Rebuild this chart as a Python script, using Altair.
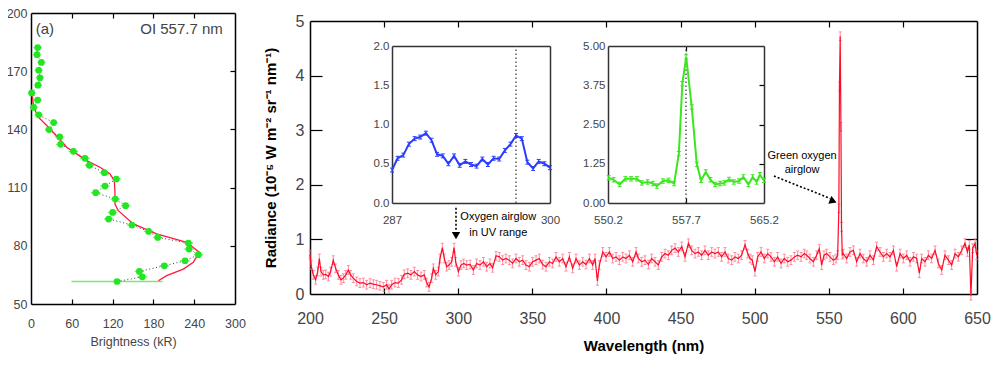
import altair as alt
import pandas as pd

FONT = "Liberation Sans"

# ---------------- data ----------------
# (a) OI 557.7 nm brightness profile
A_ALT = [182.2, 178.5, 174.5, 170.5, 166.6, 162.8, 158.8, 155.1, 151.3, 147.5,
         143.5, 139.9, 136.1, 132.3, 128.7, 125.1, 121.5, 117.7, 114.4, 110.8,
         107.4, 104.1, 100.7, 97.2, 93.8, 90.7, 87.4, 84.3, 81.4, 78.3,
         75.4, 72.3, 69.7, 66.8, 64.0, 61.6]
A_BRIGHT = [9.8, 8.8, 15.2, 11.3, 13.2, 10.3, 1.0, 9.8, 3.9, 11.3,
            33.3, 26.5, 42.2, 43.6, 62.3, 79.4, 85.8, 107.8, 125.5, 108.8,
            95.1, 124.0, 139.2, 120.1, 114.2, 148.5, 173.0, 186.3, 231.4, 232.4,
            246.1, 226.5, 196.1, 159.3, 163.7, 126.5]
A_ERR = [6, 6, 6, 6, 6, 6, 6, 6, 6, 6,
         6, 6, 7, 7, 7, 7, 7, 7, 7, 7,
         7, 7, 7, 7, 7, 7, 7, 7, 7, 7,
         7, 7, 7, 7, 7, 67]
A_MODEL_ALT = [160.0, 151.4, 146.3, 140.3, 130.8, 123.9, 120.5, 117.0, 113.6, 107.6,
               103.3, 101.5, 98.1, 91.3, 86.1, 81.8, 76.7, 71.5, 68.0, 64.6, 62.0]
A_MODEL_BRIGHT = [1.0, 3.9, 10.8, 27.9, 52.5, 81.9, 101.5, 116.2, 122.5, 123.5,
                  123.5, 123.5, 128.4, 150.5, 184.8, 228.9, 247.5, 238.7, 224.0, 199.5, 187.3]

# main spectrum
WL = [200.0, 200.7, 202.2, 203.8, 205.2, 206.3, 207.4, 209.0, 210.6, 212.4,
      213.9, 215.7, 217.3, 219.1, 220.9, 222.5, 224.1, 225.9, 227.4, 229.2,
      231.5, 233.7, 236.0, 238.2, 240.5, 242.7, 245.0, 247.2, 249.5, 251.7,
      253.3, 255.1, 257.3, 259.6, 261.8, 263.6, 265.9, 268.1, 270.4, 272.6,
      274.9, 277.1, 278.7, 280.3, 282.1, 283.2, 284.8, 286.6, 287.7, 289.3,
      290.6, 292.2, 293.8, 295.6, 297.2, 298.3, 300.1, 301.9, 303.7, 305.7,
      308.0, 310.2, 312.4, 314.7, 317.0, 319.2, 321.4, 323.2, 325.5, 327.7,
      330.0, 332.2, 334.5, 336.7, 339.0, 341.2, 343.5, 345.7, 348.0, 350.2,
      352.5, 354.7, 357.0, 359.2, 361.5, 363.7, 366.0, 368.2, 370.5, 372.7,
      375.0, 377.2, 379.5, 381.7, 384.0, 386.2, 388.5, 390.7, 392.3, 393.9,
      395.2, 397.5, 399.7, 402.0, 404.2, 406.5, 408.7, 411.0, 413.2, 415.5,
      417.7, 420.0, 421.5, 423.8, 426.0, 428.3, 430.5, 432.8, 435.0, 437.3,
      439.5, 441.8, 444.0, 446.3, 448.5, 450.8, 453.0, 455.3, 457.5, 459.8,
      462.0, 464.2, 466.5, 468.7, 471.0, 473.2, 475.5, 477.7, 480.0, 482.2,
      484.5, 486.7, 489.0, 491.2, 493.5, 495.3, 496.9, 498.4, 500.2, 502.0,
      504.3, 506.5, 508.8, 511.0, 513.3, 515.5, 517.8, 520.0, 522.3, 524.5,
      526.8, 529.0, 531.3, 533.5, 535.1, 537.3, 539.6, 541.8, 543.6, 545.2,
      546.8, 548.6, 550.8, 553.1, 554.9, 556.0, 556.8, 557.2, 557.7, 558.2,
      558.6, 559.1, 559.8, 562.1, 564.3, 566.6, 568.8, 571.1, 573.3, 575.6,
      577.8, 580.1, 582.3, 584.6, 586.8, 589.1, 591.3, 593.6, 595.8, 598.1,
      600.3, 602.6, 604.8, 607.1, 609.3, 611.1, 612.7, 614.9, 617.2, 619.4,
      621.7, 623.9, 626.2, 628.4, 630.7, 632.9, 635.2, 637.4, 639.7, 641.9,
      643.5, 644.8, 645.9, 647.1, 648.7, 649.8]
RAD = [0.72, 0.53, 0.35, 0.26, 0.41, 0.65, 0.41, 0.35, 0.36, 0.32,
       0.41, 0.62, 0.47, 0.35, 0.26, 0.29, 0.35, 0.44, 0.35, 0.29,
       0.23, 0.20, 0.21, 0.17, 0.20, 0.18, 0.17, 0.15, 0.13, 0.17,
       0.09, 0.17, 0.21, 0.20, 0.26, 0.36, 0.38, 0.35, 0.41, 0.35,
       0.32, 0.35, 0.21, 0.13, 0.29, 0.47, 0.35, 0.41, 0.65, 0.85,
       0.65, 0.50, 0.53, 0.59, 0.85, 0.59, 0.41, 0.53, 0.56, 0.53,
       0.54, 0.44, 0.56, 0.53, 0.59, 0.50, 0.56, 0.48, 0.70, 0.68,
       0.62, 0.65, 0.62, 0.56, 0.65, 0.59, 0.62, 0.53, 0.50, 0.59,
       0.62, 0.65, 0.54, 0.50, 0.59, 0.56, 0.68, 0.59, 0.65, 0.50,
       0.68, 0.47, 0.65, 0.53, 0.59, 0.54, 0.65, 0.53, 0.65, 0.24,
       0.53, 0.77, 0.68, 0.77, 0.65, 0.68, 0.62, 0.68, 0.65, 0.71,
       0.59, 0.77, 0.65, 0.59, 0.62, 0.54, 0.65, 0.59, 0.53, 0.68,
       0.74, 0.71, 0.80, 0.84, 0.77, 0.87, 0.68, 0.93, 0.80, 0.74,
       0.77, 0.71, 0.80, 0.71, 0.77, 0.74, 0.77, 0.68, 0.77, 0.65,
       0.62, 0.68, 0.65, 0.71, 0.90, 0.74, 0.65, 0.62, 0.41, 0.68,
       0.77, 0.65, 0.74, 0.68, 0.59, 0.68, 0.56, 0.65, 0.59, 0.62,
       0.68, 0.71, 0.68, 0.74, 0.71, 0.65, 0.59, 0.71, 0.83, 0.53,
       0.71, 0.74, 0.68, 0.62, 0.65, 0.71, 1.57, 3.80, 4.72, 3.06,
       1.23, 0.72, 0.74, 0.65, 0.77, 0.80, 0.59, 0.74, 0.65, 0.59,
       0.71, 0.62, 0.87, 0.77, 0.68, 0.74, 0.68, 0.80, 0.50, 0.74,
       0.65, 0.71, 0.59, 0.68, 0.65, 0.38, 0.65, 0.59, 0.71, 0.65,
       0.80, 0.56, 0.44, 0.71, 0.62, 0.53, 0.74, 0.68, 0.80, 0.93,
       0.77, 0.90, -0.03, 0.84, 0.93, 0.71]
RAD_ERR = 0.08

# inset: UV oxygen airglow
UV_WL = [287.00, 287.46, 287.93, 288.39, 288.86, 289.32, 289.79, 290.25, 290.71, 291.18,
         291.64, 292.11, 292.57, 293.04, 293.50, 293.96, 294.43, 294.89, 295.36, 295.82,
         296.29, 296.75, 297.21, 297.68, 298.14, 298.61, 299.07, 299.54, 300.00]
UV_RAD = [0.42, 0.57, 0.61, 0.75, 0.82, 0.84, 0.89, 0.80, 0.62, 0.60,
          0.50, 0.60, 0.48, 0.53, 0.49, 0.47, 0.56, 0.49, 0.57, 0.56,
          0.67, 0.75, 0.86, 0.82, 0.52, 0.44, 0.53, 0.50, 0.45]
UV_ERR = 0.025
UV_LINE = [297.2]

# inset: green oxygen line
GR_WL = [550.26, 550.74, 551.32, 551.86, 552.41, 552.98, 553.46, 554.01, 554.52, 554.90,
         555.48, 556.02, 556.56, 557.01, 557.35, 557.72, 558.25, 558.74, 559.15, 559.60,
         560.05, 560.50, 560.98, 561.39, 561.84, 562.29, 562.80, 563.22, 563.70, 564.11,
         564.49, 564.81, 565.20]
GR_RAD = [0.80, 0.74, 0.59, 0.77, 0.77, 0.77, 0.64, 0.67, 0.62, 0.54,
          0.70, 0.72, 0.62, 1.57, 3.80, 4.65, 3.06, 1.23, 0.72, 0.99,
          0.74, 0.59, 0.62, 0.64, 0.75, 0.67, 0.70, 0.83, 0.59, 0.83,
          0.67, 0.90, 0.72]
GR_ERR = 0.07
GR_LINE = [557.7]

# tick values
A_XTICKS = [0, 60, 120, 180, 240, 300]
A_XINNER = [60, 120, 180, 240]
A_YTICKS = [50, 80, 110, 140, 170, 200]
A_YINNER = [80, 110, 140, 170]
B_XTICKS = [200, 250, 300, 350, 400, 450, 500, 550, 600, 650]
B_XINNER = [250, 300, 350, 400, 450, 500, 550, 600]
B_YTICKS = [0, 1, 2, 3, 4, 5]
B_YINNER = [1, 2, 3, 4]
C_XTICKS = [287, 300]
C_YTICKS = [0.0, 0.5, 1.0, 1.5, 2.0]
D_XTICKS = [550.2, 557.7, 565.2]
D_XINNER = [557.7]
D_YTICKS = [0.0, 1.25, 2.5, 3.75, 5.0]
D_YINNER = [1.25, 2.5, 3.75]

# annotation texts
UV_NOTE = ["Oxygen airglow", "in UV range"]
GR_NOTE = ["Green oxygen", "airglow"]
PANEL_LABEL = "(a)"
PANEL_LINE = "OI 557.7 nm"

# ---------------- layout (pixels inside the plot area) ----------------
W, H = 946, 291
A_XS = alt.Scale(domain=[0, 300], range=[0, 204], nice=False, zero=False)
A_YS = alt.Scale(domain=[50, 200], range=[291, 0], nice=False, zero=False)
B_XS = alt.Scale(domain=[200, 650], range=[279, 946], nice=False, zero=False)
B_YS = alt.Scale(domain=[0, 5], range=[281, 8], nice=False, zero=False)
C_XS = alt.Scale(domain=[287, 300], range=[361, 519], nice=False, zero=False)
C_YS = alt.Scale(domain=[0, 2], range=[190, 33], nice=False, zero=False)
D_XS = alt.Scale(domain=[550.2, 565.2], range=[577, 733], nice=False, zero=False)
D_YS = alt.Scale(domain=[0, 5], range=[190, 33], nice=False, zero=False)

LABEL_GRAY = "#454545"


def lab_axis(orient, offset, values, fs, pad, fmt, title=None, **kw):
    return alt.Axis(orient=orient, offset=offset, values=values, labelFontSize=fs,
                    labelPadding=pad, format=fmt, ticks=False, tickSize=0,
                    labelFlush=False, labelOverlap=False, grid=False,
                    labelColor=LABEL_GRAY, title=title, **kw)


def frame_axis(orient, offset, values, size=0, domain=True, width=1.5, color="#000000"):
    return alt.Axis(orient=orient, offset=offset, values=values, labels=False,
                    ticks=len(values) > 0, tickSize=size, tickWidth=1.2,
                    domain=domain, domainWidth=width, domainColor=color,
                    grid=False, title=None)


def guide(xs, ys, x0, y0, xaxis, yaxis):
    df = pd.DataFrame({"gx": [x0], "gy": [y0]})
    return alt.Chart(df).mark_point(opacity=0).encode(
        x=alt.X("gx:Q", scale=xs, axis=xaxis),
        y=alt.Y("gy:Q", scale=ys, axis=yaxis),
    )


def vbars(df, xf, yf, err, xs, ys, color, cap, width, opacity=1.0):
    base = alt.Chart(df).transform_calculate(
        lo=f"datum.{yf} - {err}", hi=f"datum.{yf} + {err}")
    bars = base.mark_rule(color=color, strokeWidth=width, opacity=opacity).encode(
        x=alt.X(f"{xf}:Q", scale=xs, axis=None),
        y=alt.Y("lo:Q", scale=ys, axis=None), y2="hi:Q")
    caps = base.transform_fold(["lo", "hi"], as_=["bound", "bv"]).mark_tick(
        orient="horizontal", size=cap, thickness=1, color=color, opacity=opacity).encode(
        x=alt.X(f"{xf}:Q", scale=xs, axis=None),
        y=alt.Y("bv:Q", scale=ys, axis=None))
    return [bars, caps]


# ---------------- panel (a) ----------------
dfA = pd.DataFrame({"altitude": A_ALT, "bright": A_BRIGHT, "err": A_ERR})
dfAm = pd.DataFrame({"altitude": A_MODEL_ALT, "bright": A_MODEL_BRIGHT})

a_guides = [
    guide(A_XS, A_YS, 0, 50,
          lab_axis("bottom", 0, A_XTICKS, 12.5, 13, "d", title="Brightness (kR)",
                   titleFontSize=12.5, titleFontWeight="normal", titleColor=LABEL_GRAY,
                   titlePadding=6, domainWidth=1.5),
          lab_axis("left", 0, A_YTICKS, 12.5, 4, "d", domainWidth=1.5)),
    guide(A_XS, A_YS, 0, 50, frame_axis("top", -291, A_XINNER, 5, domain=False),
          frame_axis("left", -204, A_YINNER, 5)),
    guide(A_XS, A_YS, 0, 50, frame_axis("bottom", -291, A_XINNER, 5), None),
]
a_err = alt.Chart(dfA).transform_calculate(
    lo="datum.bright - datum.err", hi="datum.bright + datum.err"
).mark_rule(color="#6fee6f", strokeWidth=1.3).encode(
    x=alt.X("lo:Q", scale=A_XS, axis=None), x2="hi:Q",
    y=alt.Y("altitude:Q", scale=A_YS, axis=None))
a_dots = alt.Chart(dfA).mark_line(color="#444444", strokeDash=[1, 2.5], strokeWidth=1).encode(
    x=alt.X("bright:Q", scale=A_XS, axis=None),
    y=alt.Y("altitude:Q", scale=A_YS, axis=None),
    order=alt.Order("altitude:Q"))
a_model = alt.Chart(dfAm).mark_line(color="#ff1a3c", strokeWidth=1.3).encode(
    x=alt.X("bright:Q", scale=A_XS, axis=None),
    y=alt.Y("altitude:Q", scale=A_YS, axis=None),
    order=alt.Order("altitude:Q"))
a_pts = alt.Chart(dfA).mark_circle(size=45, color="#22e622", opacity=1).encode(
    x=alt.X("bright:Q", scale=A_XS, axis=None),
    y=alt.Y("altitude:Q", scale=A_YS, axis=None))
a_txt1 = alt.Chart(pd.DataFrame({"t": [PANEL_LABEL], "x": [20.5], "y": [192.0]})).mark_text(
    font=FONT, fontSize=15, color="#444444", align="center", baseline="middle").encode(
    x=alt.X("x:Q", scale=A_XS, axis=None), y=alt.Y("y:Q", scale=A_YS, axis=None), text="t:N")
a_txt2 = alt.Chart(pd.DataFrame({"t": [PANEL_LINE], "x": [282], "y": [192.0]})).mark_text(
    font=FONT, fontSize=15, color="#444444", align="right", baseline="middle").encode(
    x=alt.X("x:Q", scale=A_XS, axis=None), y=alt.Y("y:Q", scale=A_YS, axis=None), text="t:N")

panelA = alt.layer(*a_guides, a_err, a_dots, a_model, a_pts, a_txt1, a_txt2).resolve_axis(
    x="independent", y="independent")

# ---------------- main spectrum ----------------
dfB = pd.DataFrame({"wl": WL, "rad": RAD})
b_guides = [
    guide(B_XS, B_YS, 200, 0,
          lab_axis("bottom", -10, B_XTICKS, 16, 16, "d", title="Wavelength (nm)",
                   titleFontSize=15, titleFontWeight="bold", titleColor="#000000",
                   titlePadding=12, domainWidth=1.5),
          lab_axis("left", -279, B_YTICKS, 16, 6, "d",
                   title="Radiance (10⁻⁵ W m⁻² sr⁻¹ nm⁻¹)",
                   titleFontSize=15, titleFontWeight="bold", titleColor="#000000",
                   titlePadding=17, domainWidth=1.5)),
    guide(B_XS, B_YS, 200, 0, frame_axis("top", -281, B_XINNER, 6, domain=False),
          frame_axis("right", -667, B_YINNER, 12, domain=False)),
    guide(B_XS, B_YS, 200, 0, frame_axis("bottom", -283, B_XINNER, 6),
          frame_axis("left", -946, B_YINNER, 12)),
]
b_err = vbars(dfB, "wl", "rad", RAD_ERR, B_XS, B_YS, "#ff7d90", 3, 1, opacity=0.85)
b_line = alt.Chart(dfB).mark_line(color="#ff0a28", strokeWidth=1.2).encode(
    x=alt.X("wl:Q", scale=B_XS, axis=None), y=alt.Y("rad:Q", scale=B_YS, axis=None))

uv_note = pd.DataFrame({"t": UV_NOTE, "x": [327.0, 327.0], "y": [1.41, 1.12]})
gr_note = pd.DataFrame({"t": GR_NOTE, "x": [532.0, 532.0], "y": [2.53, 2.27]})
b_notes = alt.Chart(pd.concat([uv_note, gr_note])).mark_text(
    font=FONT, fontSize=11, color="#000000", align="center", baseline="middle").encode(
    x=alt.X("x:Q", scale=B_XS, axis=None), y=alt.Y("y:Q", scale=B_YS, axis=None), text="t:N")
uv_arrow = pd.DataFrame({"x": [298.5, 298.5], "y": [1.58, 1.15], "k": [0, 1]})
gr_arrow = pd.DataFrame({"x": [513.0, 551.0], "y": [2.16, 1.75], "k": [0, 1]})
b_uv_line = alt.Chart(uv_arrow).mark_line(color="#000000", strokeDash=[2, 2], strokeWidth=1.6).encode(
    x=alt.X("x:Q", scale=B_XS, axis=None), y=alt.Y("y:Q", scale=B_YS, axis=None), order="k:Q")
b_gr_line = alt.Chart(gr_arrow).mark_line(color="#000000", strokeDash=[2, 2], strokeWidth=1.6).encode(
    x=alt.X("x:Q", scale=B_XS, axis=None), y=alt.Y("y:Q", scale=B_YS, axis=None), order="k:Q")
b_uv_head = alt.Chart(pd.DataFrame({"x": [298.5], "y": [1.07]})).mark_point(
    shape="triangle-down", filled=True, size=70, color="#000000", opacity=1).encode(
    x=alt.X("x:Q", scale=B_XS, axis=None), y=alt.Y("y:Q", scale=B_YS, axis=None))
b_gr_head = alt.Chart(pd.DataFrame({"x": [553.0], "y": [1.70]})).mark_point(
    shape="triangle-right", angle=22, filled=True, size=70, color="#000000", opacity=1).encode(
    x=alt.X("x:Q", scale=B_XS, axis=None), y=alt.Y("y:Q", scale=B_YS, axis=None))

panelB = alt.layer(*b_guides, *b_err, b_line, b_notes, b_uv_line, b_gr_line,
                   b_uv_head, b_gr_head).resolve_axis(x="independent", y="independent")

# ---------------- inset UV ----------------
dfC = pd.DataFrame({"wl": UV_WL, "rad": UV_RAD})
c_guides = [
    guide(C_XS, C_YS, 287, 0,
          lab_axis("bottom", -101, C_XTICKS, 11.5, 11, "d", domainWidth=1.5, domainColor="#333333"),
          lab_axis("left", -361, C_YTICKS, 11.5, 3, ".1f", domainWidth=1.5, domainColor="#333333")),
    guide(C_XS, C_YS, 287, 0, frame_axis("bottom", -258, [], color="#333333"),
          frame_axis("left", -519, [], color="#333333")),
]
c_rule = alt.Chart(pd.DataFrame({"x": UV_LINE, "y0": [0.0], "y1": [2.0]})).mark_rule(
    color="#444444", strokeDash=[1.5, 2.5], strokeWidth=1.3).encode(
    x=alt.X("x:Q", scale=C_XS, axis=None), y=alt.Y("y0:Q", scale=C_YS, axis=None), y2="y1:Q")
c_err = vbars(dfC, "wl", "rad", UV_ERR, C_XS, C_YS, "#2a3cff", 4, 1)
c_line = alt.Chart(dfC).mark_line(color="#2a3cff", strokeWidth=2).encode(
    x=alt.X("wl:Q", scale=C_XS, axis=None), y=alt.Y("rad:Q", scale=C_YS, axis=None))
panelC = alt.layer(*c_guides, c_rule, *c_err, c_line).resolve_axis(x="independent", y="independent")

# ---------------- inset green ----------------
dfD = pd.DataFrame({"wl": GR_WL, "rad": GR_RAD})
d_guides = [
    guide(D_XS, D_YS, 550.2, 0,
          lab_axis("bottom", -101, D_XTICKS, 11.5, 11, ".1f", domainWidth=1.5, domainColor="#333333"),
          lab_axis("left", -577, D_YTICKS, 11.5, 3, ".2f", domainWidth=1.5, domainColor="#333333")),
    guide(D_XS, D_YS, 550.2, 0, frame_axis("bottom", -258, D_XINNER, 5, color="#333333"),
          frame_axis("left", -733, D_YINNER, 5, color="#333333")),
    guide(D_XS, D_YS, 550.2, 0, frame_axis("top", -190, D_XINNER, 5, domain=False), None),
]
d_rule = alt.Chart(pd.DataFrame({"x": GR_LINE, "y0": [0.0], "y1": [5.0]})).mark_rule(
    color="#444444", strokeDash=[1.5, 2.5], strokeWidth=1.3).encode(
    x=alt.X("x:Q", scale=D_XS, axis=None), y=alt.Y("y0:Q", scale=D_YS, axis=None), y2="y1:Q")
d_err = vbars(dfD, "wl", "rad", GR_ERR, D_XS, D_YS, "#3be61e", 4, 1)
d_line = alt.Chart(dfD).mark_line(color="#3be61e", strokeWidth=2).encode(
    x=alt.X("wl:Q", scale=D_XS, axis=None), y=alt.Y("rad:Q", scale=D_YS, axis=None))
panelD = alt.layer(*d_guides, d_rule, *d_err, d_line).resolve_axis(x="independent", y="independent")

chart = alt.layer(panelA, panelB, panelC, panelD).resolve_scale(
    x="independent", y="independent"
).properties(
    width=W, height=H,
    autosize=alt.AutoSizeParams(type="none"),
    padding={"left": 23, "top": 5, "right": 20, "bottom": 60},
).configure_view(stroke=None).configure_axis(
    grid=False, labelFont=FONT, titleFont=FONT, domainColor="#000000", tickColor="#000000"
)

chart.save("out.html", embed_options={"renderer": "svg", "actions": False})
